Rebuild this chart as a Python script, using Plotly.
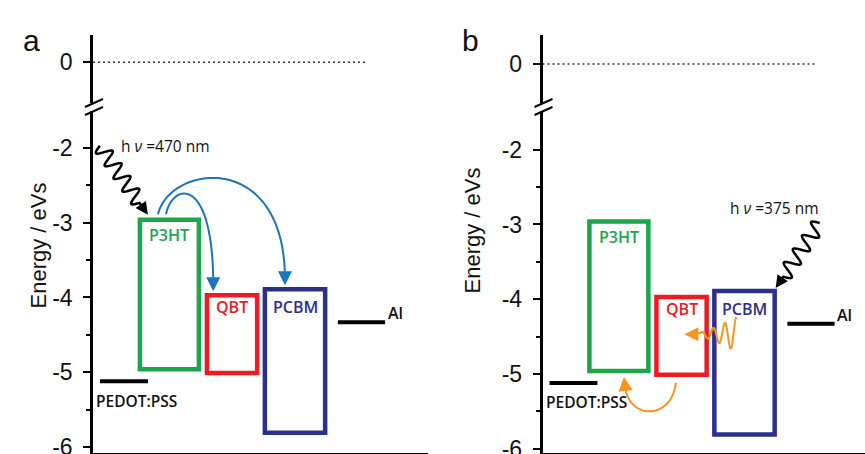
import numpy as np
import plotly.graph_objects as go

W, H = 865, 454

# ---------------- data ----------------
materials = ["P3HT", "QBT", "PCBM"]
lumo = [-2.96, -3.97, -3.89]          # eV (top of box)
homo = [-4.96, -5.01, -5.81]          # eV (bottom of box)
electrodes = ["PEDOT:PSS", "Al"]
work_function = [-5.12, -4.33]        # eV
vacuum_level = [0.0]
major_ticks = [-2, -3, -4, -5, -6]
major_tick_text = ["-2", "-3", "-4", "-5", "-6"]
minor_ticks = [-2.5, -3.5, -4.5, -5.5]
photon_text = ["h <i>ν</i> =470 nm", "h <i>ν</i> =375 nm"]
panel_letters = ["a", "b"]
axis_title = "Energy / eVs"

# ---------------- styling / layout constants ----------------
mat_colors = ["#1aa64b", "#ed1c24", "#2b2f8e"]
box_left = [1.40, 3.40, 5.13]
box_right = [3.16, 4.90, 6.93]
elec_left = [0.21, 7.31]
elec_right = [1.64, 8.72]
dot_end = 8.12
UPX = 33.5   # px per x unit
FONT = "Arial, Liberation Sans, sans-serif"
LFONT = "Open Sans, Noto Sans, sans-serif"
BLUE = "#1c75bc"
ORANGE = "#f7941d"

# panel geometry (pixels)
panels = {
    "a": dict(x0px=93.0, x1px=428.0, lo=-6.074, hi=-1.505, ulo=-0.544, uhi=0.365),
    "b": dict(x0px=542.5, x1px=865.0, lo=-6.051, hi=-1.482, ulo=-0.521, uhi=0.388),
}
LOW_TOP, LOW_BOT = 111.0, 452.5
UP_TOP, UP_BOT = 35.0, 103.0


def to_px(p, u, E):
    g = panels[p]
    x = g["x0px"] + u * UPX
    y = LOW_BOT - (E - g["lo"]) * (LOW_BOT - LOW_TOP) / (g["hi"] - g["lo"])
    return np.array([x, y])


def pap(pt):
    return pt[0] / W, 1 - pt[1] / H


def path_from(pts):
    s = []
    for i, (x, y) in enumerate(pts):
        px, py = pap((x, y))
        s.append(("M" if i == 0 else "L") + f"{px:.5f},{py:.5f}")
    return " ".join(s)


def wave_pts(p0, p1, periods, amp, straight=0.12, n=300):
    p0 = np.array(p0, float); p1 = np.array(p1, float)
    d = p1 - p0; L = np.hypot(*d); t = d / L; nv = np.array([-t[1], t[0]])
    s = np.linspace(0, 1, n)
    wl = 1 - straight
    a = np.where(s < wl, amp * np.sin(2 * np.pi * periods * np.minimum(s, wl) / wl), 0.0)
    return p0[None, :] + s[:, None] * d[None, :] + a[:, None] * nv[None, :]


def bezier(P0, P1, P2, P3, n=80):
    t = np.linspace(0, 1, n)[:, None]
    P0, P1, P2, P3 = map(lambda v: np.array(v, float), (P0, P1, P2, P3))
    return (1 - t) ** 3 * P0 + 3 * (1 - t) ** 2 * t * P1 + 3 * (1 - t) * t ** 2 * P2 + t ** 3 * P3


fig = go.Figure()
shapes = []
annotations = []

axmap = {"a": ("x", "y", "y2"), "b": ("x2", "y3", "y4")}

for p in ["a", "b"]:
    xr, ylo, yup = axmap[p]
    # vacuum level dotted line
    fig.add_trace(go.Scatter(x=[0, dot_end], y=vacuum_level * 2, xaxis=xr, yaxis=yup,
                             mode="lines", line=dict(color="#333333", width=1.6, dash="2px,3px"),
                             hoverinfo="skip", showlegend=False))
    # boxes
    for i, m in enumerate(materials):
        shapes.append(dict(type="rect", xref=xr, yref=ylo, x0=box_left[i], x1=box_right[i],
                           y0=homo[i], y1=lumo[i], line=dict(color=mat_colors[i], width=4.5),
                           fillcolor="rgba(0,0,0,0)", layer="above"))
    label_y = [lumo[0] - 0.21, lumo[1] - 0.155, lumo[2] - 0.235]
    for i, m in enumerate(materials):
        annotations.append(dict(x=(box_left[i] + box_right[i]) / 2, y=label_y[i], xref=xr, yref=ylo,
                                text=m, showarrow=False,
                                font=dict(family=LFONT, size=16, weight=600, color=mat_colors[i])))
    # electrodes
    for i, e in enumerate(electrodes):
        shapes.append(dict(type="line", xref=xr, yref=ylo, x0=elec_left[i], x1=elec_right[i],
                           y0=work_function[i], y1=work_function[i],
                           line=dict(color="black", width=4)))
    annotations.append(dict(x=elec_left[0] - 0.17, y=work_function[0] - 0.26, xref=xr, yref=ylo,
                            text=electrodes[0], showarrow=False, xanchor="left",
                            font=dict(family=LFONT, size=15.5, weight=600, color="#111")))
    annotations.append(dict(x=elec_right[1] + 0.02, y=work_function[1] + 0.12, xref=xr, yref=ylo,
                            text=electrodes[1], showarrow=False, xanchor="left",
                            font=dict(family=LFONT, size=16, weight=600, color="#111")))
    # axis break marks
    ax0 = panels[p]["x0px"]
    for yy in (UP_BOT, LOW_TOP):
        shapes.append(dict(type="line", xref="paper", yref="paper",
                           x0=(ax0 - 8) / W, y0=1 - (yy + 4) / H,
                           x1=(ax0 + 10) / W, y1=1 - (yy - 4) / H,
                           line=dict(color="black", width=2)))
    # axis title
    annotations.append(dict(x=(ax0 - 70) / W, y=1 - (246 if p == "a" else 231) / H, xref="paper",
                            yref="paper", text=axis_title, textangle=-90, showarrow=False,
                            font=dict(family=FONT, size=22, color="#111")))
    # panel letter
    annotations.append(dict(x=(ax0 - 72) / W, y=1 - 22 / H, xref="paper", yref="paper",
                            text=panel_letters[0 if p == "a" else 1], showarrow=False,
                            font=dict(family=FONT, size=30, color="#111")))


def arrowhead(tip, tail_off, color, width=2, size=1.3):
    x, y = pap(tip)
    annotations.append(dict(x=x, y=y, xref="paper", yref="paper", ax=tail_off[0], ay=tail_off[1],
                            text="", showarrow=True, arrowhead=2, arrowsize=size,
                            arrowwidth=width, arrowcolor=color, standoff=0))


# ----- panel a decorations -----
annotations.append(dict(x=2.15, y=-1.97, xref="x", yref="y", text=photon_text[0], showarrow=False,
                        font=dict(family=LFONT, size=15.5, color="#111")))
tip = to_px("a", box_left[0], lumo[0]) + np.array([8, -5])
start = tip + np.array([-48, -69])
shapes.append(dict(type="path", xref="paper", yref="paper",
                   path=path_from(wave_pts(start, tip - (tip - start) * 0.06, 4.5, 7.5)),
                   line=dict(color="black", width=2.5)))
arrowhead(tip, (-(tip - start) / np.hypot(*(tip - start)) * 10), "black", 2.5, 1.0)

# blue transfer arrows
for u_s, tgt, up1, up2 in [(1.94, 2, 50, 65), (2.18, 1, 31, 41)]:
    S = to_px("a", u_s, lumo[0]) + np.array([0, -5.5])
    tx = (box_left[tgt] + box_right[tgt]) / 2 + (-0.30 if tgt == 2 else -0.56)
    T = to_px("a", tx, lumo[tgt]) + np.array([0, -4])
    pts = bezier(S, (S[0] + (12 if tgt == 2 else 6), S[1] - up1), (T[0], S[1] - up2), (T[0], T[1] - 6))
    shapes.append(dict(type="path", xref="paper", yref="paper", path=path_from(pts),
                       line=dict(color=BLUE, width=2)))
    arrowhead(T, (0, -9), BLUE, 2, 1.4)

# ----- panel b decorations -----
annotations.append(dict(x=6.94, y=-2.78, xref="x2", yref="y3", text=photon_text[1], showarrow=False,
                        font=dict(family=LFONT, size=15.5, color="#111")))
tip = to_px("b", box_right[2], lumo[2]) + np.array([1, -3])
start = tip + np.array([44, -65])
shapes.append(dict(type="path", xref="paper", yref="paper",
                   path=path_from(wave_pts(start, tip - (tip - start) * 0.06, 4.0, 7.5)),
                   line=dict(color="black", width=2.5)))
arrowhead(tip, (-(tip - start) / np.hypot(*(tip - start)) * 10), "black", 2.5, 1.0)

# orange curved arrow (QBT HOMO -> P3HT HOMO)
S = to_px("b", 3.98, homo[1]) + np.array([0, 8])
T = to_px("b", 2.43, homo[0]) + np.array([0, 6])
pts = bezier(S, (S[0] - 4, S[1] + 38), (T[0] + 3, S[1] + 38), (T[0] + 1, T[1] + 7))
shapes.append(dict(type="path", xref="paper", yref="paper", path=path_from(pts),
                   line=dict(color=ORANGE, width=2)))
arrowhead(T, (1, 9), ORANGE, 2, 1.4)

# orange wavy arrow (PCBM -> QBT)
edge = to_px("b", box_left[2], -4.47)
xs = np.linspace(edge[0] + 22, edge[0] - 14, 200)
A = 2 + 15 * ((xs - xs[-1]) / (xs[0] - xs[-1])) ** 1.2
ys = edge[1] - A * np.cos(2 * np.pi * (xs[0] - xs) / 11.5)
pts = np.column_stack([xs, ys])
pts = np.vstack([pts, [[edge[0] - 24, edge[1]]]])
shapes.append(dict(type="path", xref="paper", yref="paper", path=path_from(pts),
                   line=dict(color=ORANGE, width=2)))
arrowhead(np.array([edge[0] - 30, edge[1]]), (9, 0), ORANGE, 2, 1.4)

# ---------------- axes ----------------
def xaxis_cfg(p, anchor):
    g = panels[p]
    return dict(domain=[g["x0px"] / W, min(g["x1px"] / W, 1.0)],
                range=[0, (g["x1px"] - g["x0px"]) / UPX], anchor=anchor, automargin=False,
                showline=True, linecolor="black", linewidth=2, showticklabels=False,
                ticks="", showgrid=False, zeroline=False, fixedrange=True)


def ylow_cfg(p, anchor):
    g = panels[p]
    return dict(domain=[1 - LOW_BOT / H, 1 - LOW_TOP / H], range=[g["lo"], g["hi"]], anchor=anchor,
                automargin=False,
                showline=True, linecolor="black", linewidth=2.5, ticks="outside", ticklen=7,
                tickwidth=2, tickcolor="black", tickmode="array", tickvals=major_ticks,
                ticktext=major_tick_text, ticklabelstandoff=6, ticklabeloverflow="allow",
                tickfont=dict(family=FONT, size=23, color="#111"),
                minor=dict(tickmode="array", tickvals=minor_ticks, ticks="outside", ticklen=4,
                           tickwidth=2, tickcolor="black", showgrid=False),
                showgrid=False, zeroline=False, fixedrange=True)


def yup_cfg(p, anchor):
    g = panels[p]
    return dict(domain=[1 - UP_BOT / H, 1 - UP_TOP / H], range=[g["ulo"], g["uhi"]], anchor=anchor,
                automargin=False,
                showline=True, linecolor="black", linewidth=2.5, ticks="outside", ticklen=7,
                tickwidth=2, tickcolor="black", tickmode="array", tickvals=[0], ticktext=["0"],
                ticklabelstandoff=6, tickfont=dict(family=FONT, size=23, color="#111"),
                showgrid=False, zeroline=False, fixedrange=True)


fig.update_layout(
    width=W, height=H, margin=dict(l=0, r=0, t=0, b=0, autoexpand=False),
    paper_bgcolor="white", plot_bgcolor="rgba(0,0,0,0)", showlegend=False,
    xaxis=xaxis_cfg("a", "y"), yaxis=ylow_cfg("a", "x"), yaxis2=yup_cfg("a", "x"),
    xaxis2=xaxis_cfg("b", "y3"), yaxis3=ylow_cfg("b", "x2"), yaxis4=yup_cfg("b", "x2"),
    shapes=shapes, annotations=annotations,
)

fig.write_html("out.html", config={"displayModeBar": False},
               post_script="document.body.style.margin='0';document.body.style.overflow='hidden';")
